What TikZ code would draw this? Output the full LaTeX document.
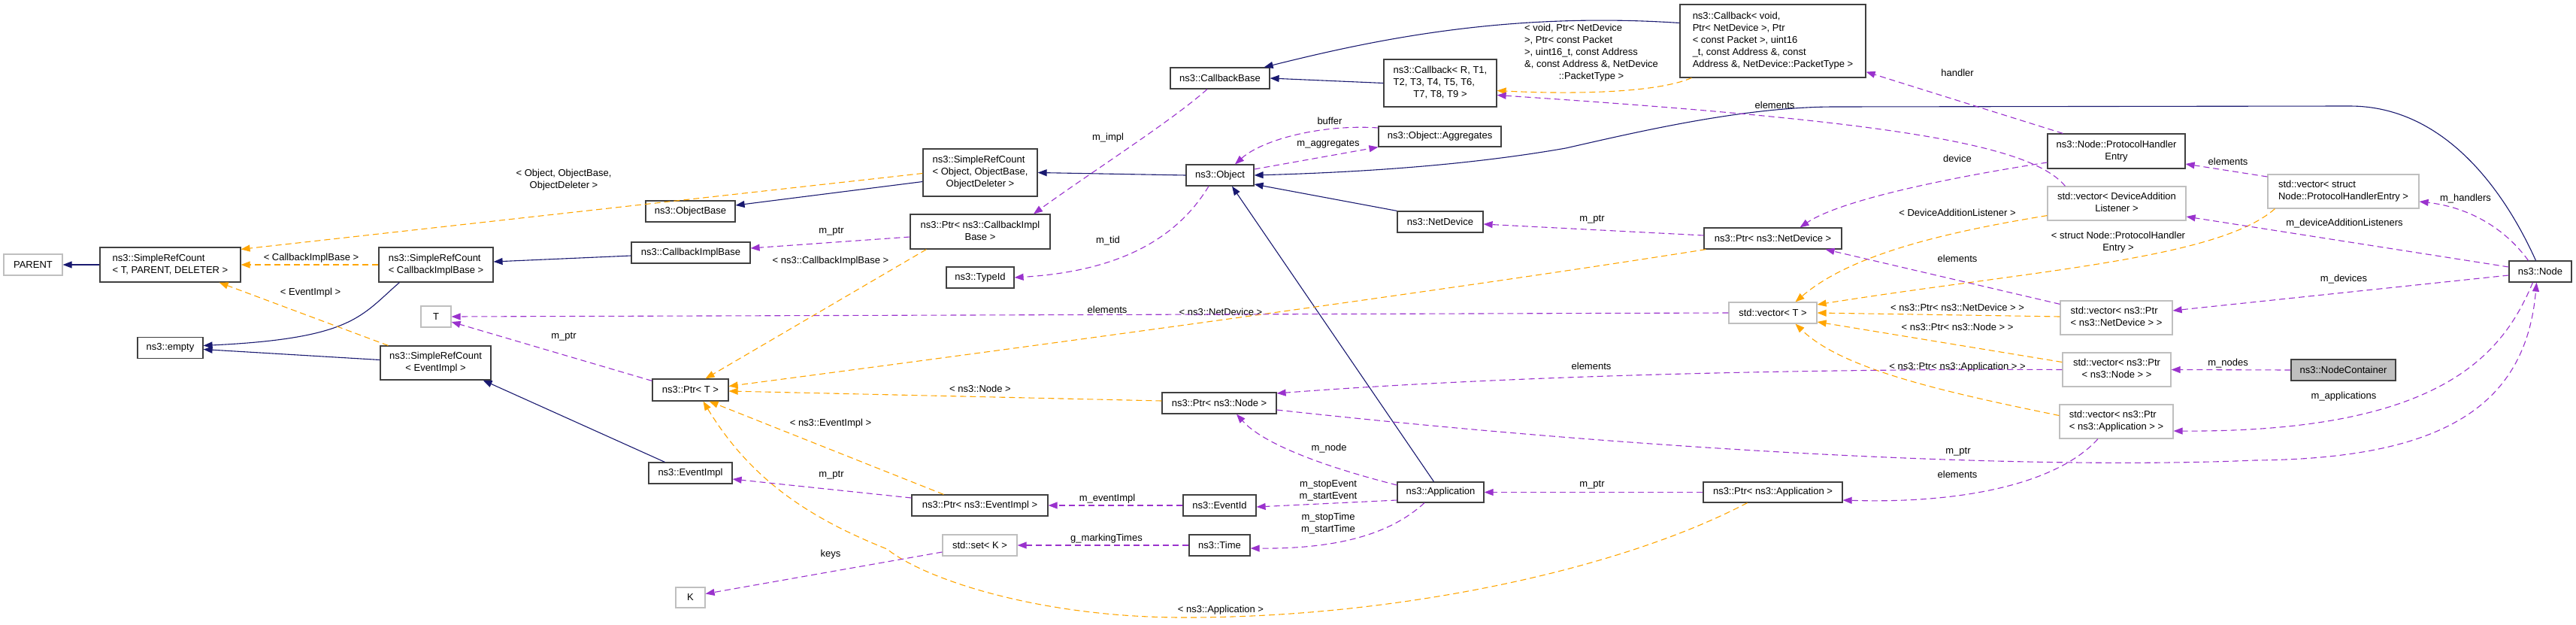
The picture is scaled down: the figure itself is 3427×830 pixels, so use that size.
\documentclass[tikz,border=0pt]{standalone}
\usepackage{fontspec}
\setmainfont{Liberation Sans}
\definecolor{dgNavy}{HTML}{191970}
\definecolor{dgPurple}{HTML}{9A32CD}
\definecolor{dgOrange}{HTML}{FFA500}
\definecolor{dgGrey}{HTML}{BFBFBF}
\definecolor{dgFrame}{HTML}{404040}
\usetikzlibrary{arrows.meta}
\newcommand{\dgfont}{\fontsize{13}{16}\selectfont}
\newcommand{\leftlines}[2]{\begin{tabular}{@{}l@{}}#1\\\multicolumn{1}{@{}c@{}}{#2}\end{tabular}}

\begin{document}
\begin{tikzpicture}[
  x=1pt, y=-1pt,
  cls/.style={draw=dgFrame, line width=1.2pt, fill=white, inner sep=0pt,
    minimum height=28pt, font=\dgfont},
  ext/.style={cls, draw=dgGrey},
  focus/.style={cls, fill=dgGrey},
  lbl/.style={inner sep=0pt, font=\dgfont, align=center},
  inh/.style={-{Triangle[length=12pt,width=9pt]}, line width=1.1pt, color=dgNavy},
  use/.style={inh, color=dgPurple, dash pattern=on 8pt off 5pt},
  tpl/.style={inh, color=dgOrange, dash pattern=on 8pt off 5pt}
]
  \useasboundingbox (0,0) rectangle (3427,830);

  % classes
  \node[ext, minimum width=78pt] (parent) at (44,352) {PARENT};
  \node[cls, minimum width=187pt, minimum height=46pt] (srcTPD) at (226.5,352)
    {\leftlines{ns3::SimpleRefCount}{< T, PARENT, DELETER >}};
  \node[cls, minimum width=152pt, minimum height=46pt] (srcCIB) at (580,352)
    {\leftlines{ns3::SimpleRefCount}{< CallbackImplBase >}};
  \node[ext, minimum width=40pt] (tT) at (580,421) {T};
  \node[cls, minimum width=87pt] (empty) at (226.5,462.5) {ns3::empty};
  \node[cls, minimum width=147pt, minimum height=45pt] (srcEI) at (579.5,482.5)
    {\leftlines{ns3::SimpleRefCount}{< EventImpl >}};
  \node[cls, minimum width=119pt] (objBase) at (918.5,281) {ns3::ObjectBase};
  \node[cls, minimum width=158pt] (cbImplBase) at (919,336) {ns3::CallbackImplBase};
  \node[cls, minimum width=101pt, minimum height=29pt] (ptrT) at (918.5,518.5) {ns3::Ptr< T >};
  \node[cls, minimum width=111pt] (eventImpl) at (918.5,629) {ns3::EventImpl};
  \node[ext, minimum width=39pt, minimum height=27pt] (kK) at (918.5,794.5) {K};
  \node[cls, minimum width=132pt] (callbackBase) at (1623,104) {ns3::CallbackBase};
  \node[cls, minimum width=152pt, minimum height=63pt] (srcObj) at (1304,229.5)
    {\leftlines{ns3::SimpleRefCount\\< Object, ObjectBase,}{ObjectDeleter >}};
  \node[cls, minimum width=186pt, minimum height=46pt] (ptrCIB) at (1304,308)
    {\leftlines{ns3::Ptr< ns3::CallbackImpl}{Base >}};
  \node[cls, minimum width=90pt] (typeId) at (1304,369) {ns3::TypeId};
  \node[cls, minimum width=90pt] (object) at (1623,233) {ns3::Object};
  \node[cls, minimum width=163pt, minimum height=27pt] (aggregates) at (1915.5,181.5) {ns3::Object::Aggregates};
  \node[cls, minimum width=150pt, minimum height=63pt] (cbRT) at (1916,110.5)
    {\leftlines{ns3::Callback< R, T1,\\T2, T3, T4, T5, T6,}{T7, T8, T9 >}};
  \node[cls, minimum width=247pt, minimum height=97pt] (cbVoid) at (2358.5,54.5)
    {\leftlines{ns3::Callback< void,\\Ptr< NetDevice >, Ptr\\< const Packet >, uint16\\\_t, const Address \&, const}{Address \&, NetDevice::PacketType >}};
  \node[cls, minimum width=114pt] (netDevice) at (1916,295) {ns3::NetDevice};
  \node[cls, minimum width=183pt] (ptrND) at (2358.5,317) {ns3::Ptr< ns3::NetDevice >};
  \node[cls, minimum width=183pt, minimum height=46pt] (phe) at (2815.5,201)
    {\leftlines{ns3::Node::ProtocolHandler}{Entry}};
  \node[ext, minimum width=184pt, minimum height=45pt] (vecDAL) at (2816,270.5)
    {\leftlines{std::vector< DeviceAddition}{Listener >}};
  \node[ext, minimum width=201pt, minimum height=45pt] (vecPHE) at (3117.5,254.5)
    {\leftlines{std::vector< struct}{Node::ProtocolHandlerEntry >}};
  \node[ext, minimum width=117pt] (vecT) at (2358.5,416) {std::vector< T >};
  \node[ext, minimum width=149pt, minimum height=45pt] (vecPND) at (2815.5,422.5)
    {\leftlines{std::vector< ns3::Ptr}{< ns3::NetDevice > >}};
  \node[ext, minimum width=144pt, minimum height=45pt] (vecPN) at (2816,491.5)
    {\leftlines{std::vector< ns3::Ptr}{< ns3::Node > >}};
  \node[ext, minimum width=151pt, minimum height=45pt] (vecPA) at (2815.5,560.5)
    {\leftlines{std::vector< ns3::Ptr}{< ns3::Application > >}};
  \node[focus, minimum width=139pt] (nodeCont) at (3117.5,492) {ns3::NodeContainer};
  \node[cls, minimum width=83pt] (node) at (3379.5,361) {ns3::Node};
  \node[cls, minimum width=152pt] (ptrNode) at (1622,536) {ns3::Ptr< ns3::Node >};
  \node[cls, minimum width=115pt, minimum height=27pt] (application) at (1916.5,654.5) {ns3::Application};
  \node[cls, minimum width=97pt] (eventId) at (1622.5,672) {ns3::EventId};
  \node[cls, minimum width=181pt] (ptrEI) at (1303.5,672) {ns3::Ptr< ns3::EventImpl >};
  \node[cls, minimum width=81pt] (time) at (1622.5,725) {ns3::Time};
  \node[ext, minimum width=99pt] (setK) at (1303.5,725) {std::set< K >};
  \node[cls, minimum width=185pt, minimum height=27pt] (ptrApp) at (2358.5,654.5) {ns3::Ptr< ns3::Application >};

  % edge labels
  \node[lbl] (lObjTpl) at (750,239) {< Object, ObjectBase,\\ObjectDeleter >};
  \node[lbl] (lCIB) at (414,343) {< CallbackImplBase >};
  \node[lbl] (lEI) at (413,389) {< EventImpl >};
  \node[lbl] (lPtrCIB) at (1105,347) {< ns3::CallbackImplBase >};
  \node[lbl] (lPtrT) at (750,448) {m\_ptr};
  \node[lbl] (lPtrCB) at (1106,308) {m\_ptr};
  \node[lbl] (lElemT) at (1473,412) {elements};
  \node[lbl] (lND) at (1624,415) {< ns3::NetDevice >};
  \node[lbl] (lNode) at (1304,517) {< ns3::Node >};
  \node[lbl] (lEImpl) at (1105,563) {< ns3::EventImpl >};
  \node[lbl] (lPtrEI) at (1106,632) {m\_ptr};
  \node[lbl] (lKeys) at (1105,737) {keys};
  \node[lbl] (lApp) at (1624,811) {< ns3::Application >};
  \node[lbl] (lEvImpl) at (1473,663) {m\_eventImpl};
  \node[lbl] (lMark) at (1472,716) {g\_markingTimes};
  \node[lbl] (lImpl) at (1474,183) {m\_impl};
  \node[lbl] (lTid) at (1474,320) {m\_tid};
  \node[lbl] (lBuffer) at (1769,161) {buffer};
  \node[lbl] (lAggr) at (1767,192) {m\_aggregates};
  \node[lbl] (lCbTpl) at (2117,70)
    {\leftlines{< void, Ptr< NetDevice\\>, Ptr< const Packet\\>, uint16\_t, const Address\\\&, const Address \&, NetDevice}{::PacketType >}};
  \node[lbl] (lPtrND) at (2118,292) {m\_ptr};
  \node[lbl] (lElemCB) at (2361,140) {elements};
  \node[lbl] (lHandler) at (2604,97) {handler};
  \node[lbl] (lDevice) at (2604,211) {device};
  \node[lbl] (lDAL) at (2604,283) {< DeviceAdditionListener >};
  \node[lbl] (lPHE) at (2818,322) {\leftlines{< struct Node::ProtocolHandler}{Entry >}};
  \node[lbl] (lElemND) at (2604,344) {elements};
  \node[lbl] (lPND) at (2604,409) {< ns3::Ptr< ns3::NetDevice > >};
  \node[lbl] (lPN) at (2604,435) {< ns3::Ptr< ns3::Node > >};
  \node[lbl] (lPA) at (2604,488) {< ns3::Ptr< ns3::Application > >};
  \node[lbl] (lPtrN) at (2605,601) {m\_ptr};
  \node[lbl] (lElemA) at (2604,631) {elements};
  \node[lbl] (lElemPN) at (2117,487) {elements};
  \node[lbl] (lNodeM) at (1768,596) {m\_node};
  \node[lbl] (lPtrA) at (2118,645) {m\_ptr};
  \node[lbl] (lEvents) at (1767,652) {m\_stopEvent\\m\_startEvent};
  \node[lbl] (lTimes) at (1767,696) {m\_stopTime\\m\_startTime};
  \node[lbl] (lElemPHE) at (2964,215) {elements};
  \node[lbl] (lHandlers) at (3280,264) {m\_handlers};
  \node[lbl] (lListeners) at (3119,297) {m\_deviceAdditionListeners};
  \node[lbl] (lDevices) at (3118,371) {m\_devices};
  \node[lbl] (lNodes) at (2964,483) {m\_nodes};
  \node[lbl] (lApps) at (3118,527) {m\_applications};

  % inheritance
  \draw[inh] (srcTPD.west) -- (parent.east);
  \draw[inh] ([xshift=28pt]srcCIB.south west) .. controls (480,420) and (470,450) .. ([yshift=3pt]empty.east);
  \draw[inh] ([yshift=4pt]srcEI.west) -- ([yshift=-2pt]empty.east);
  \draw[inh] ([yshift=-4pt]cbImplBase.west) -- ([yshift=4pt]srcCIB.east);
  \draw[inh] (object.west) -- (srcObj.east);
  \draw[inh] ([yshift=-12pt]srcObj.west) -- ([yshift=8pt]objBase.east);
  \draw[inh] ([xshift=-34pt]eventImpl.north) -- ([xshift=-11pt]srcEI.south east);
  \draw[inh] (cbRT.west) -- (callbackBase.east);
  \draw[inh] ([yshift=24pt]cbVoid.west) .. controls (2000,15) and (1820,55) .. ([xshift=-8pt]callbackBase.north east);
  \draw[inh] ([xshift=-6pt]node.north) .. controls (3330,250) and (3250,141) .. (3126,141) -- (2441,142)
    .. controls (2320,142) and (2180,175) .. (2083,197) .. controls (1980,215) and (1850,228) .. (object.east);
  \draw[inh] (netDevice.north west) -- ([yshift=-12pt]object.east);
  \draw[inh] ([xshift=-9pt]application.north) -- ([xshift=16pt]object.south);

  % template instances
  \draw[tpl] ([yshift=-1pt]srcObj.west) -- ([yshift=-3pt]srcTPD.north east);
  \draw[tpl] (srcCIB.west) -- (srcTPD.east);
  \draw[tpl] ([xshift=11pt]srcEI.north west) -- ([xshift=-29pt]srcTPD.south east);
  \draw[tpl] ([xshift=22pt]ptrCIB.south west) -- ([xshift=20pt]ptrT.north);
  \draw[tpl] ([xshift=3pt]ptrND.south west) .. controls (1900,390) and (1300,470) .. ([yshift=5pt]ptrT.east);
  \draw[tpl] ([yshift=3pt]ptrNode.west) -- ([yshift=-1.5pt]ptrT.east);
  \draw[tpl] ([xshift=43pt]ptrEI.north west) -- ([xshift=25pt]ptrT.south);
  \draw[tpl] ([xshift=-34pt]ptrApp.south) .. controls (2150,760) and (1850,822) .. (1570,821)
    .. controls (1380,820) and (1230,770) .. (1180,730) .. controls (1080,690) and (1000,640) .. ([xshift=17pt]ptrT.south);
  \draw[tpl] ([xshift=10pt]vecPHE.south west) .. controls (2950,345) and (2700,360) .. ([yshift=11pt]vecT.east);
  \draw[tpl] ([yshift=7pt]vecDAL.south west) .. controls (2580,310) and (2460,340) .. ([xshift=30pt]vecT.north);
  \draw[tpl] ([yshift=1.5pt]vecPND.west) -- (vecT.east);
  \draw[tpl] ([yshift=10pt]vecPN.west) -- ([yshift=-12pt]vecT.east);
  \draw[tpl] ([yshift=8pt]vecPA.west) .. controls (2580,520) and (2450,490) .. ([xshift=30pt]vecT.south);
  \draw[tpl] ([xshift=16pt]cbVoid.south west) .. controls (2200,125) and (2080,125) .. ([yshift=-10pt]cbRT.east);

  % members
  \draw[use] ([yshift=-3pt]ptrT.north west) -- ([yshift=-7pt]tT.east);
  \draw[use] (vecT.west) -- (tT.east);
  \draw[use] ([yshift=-7pt]ptrCIB.west) -- ([yshift=6pt]cbImplBase.east);
  \draw[use] ([yshift=10pt]ptrEI.west) -- ([yshift=-8pt]eventImpl.east);
  \draw[use] ([yshift=-9pt]setK.west) -- ([yshift=5pt]kK.east);
  \draw[use] ([xshift=-17pt]callbackBase.south) .. controls (1560,160) and (1450,230) .. ([xshift=71pt]ptrCIB.north);
  \draw[use] ([xshift=-15pt]object.south) .. controls (1570,310) and (1500,360) .. (typeId.east);
  \draw[use] ([yshift=11.5pt]aggregates.west) .. controls (1760,165) and (1680,185) .. ([xshift=20pt]object.north);
  \draw[use] ([yshift=8pt]object.east) -- (aggregates.south west);
  \draw[use] ([yshift=4pt]ptrND.west) -- ([yshift=-3pt]netDevice.east);
  \draw[use] ([xshift=24pt]vecDAL.north west) .. controls (2700,190) and (2500,160) .. ([yshift=-16pt]cbRT.east);
  \draw[use] ([xshift=21pt]phe.north west) -- ([yshift=8pt]cbVoid.south east);
  \draw[use] ([yshift=-15pt]phe.west) .. controls (2600,235) and (2450,265) .. ([xshift=36pt]ptrND.north);
  \draw[use] ([yshift=19.5pt]vecPHE.west) -- ([yshift=-17pt]phe.east);
  \draw[use] ([xshift=-16pt]node.north) .. controls (3330,300) and (3280,275) .. ([yshift=-13.5pt]vecPHE.east);
  \draw[use] ([yshift=6pt]node.west) -- ([yshift=-17.5pt]vecDAL.east);
  \draw[use] ([yshift=-5pt]node.west) -- ([yshift=9.5pt]vecPND.east);
  \draw[use] ([yshift=-5pt]vecPND.north west) -- ([xshift=70pt]ptrND.south);
  \draw[use] (vecPN.west) .. controls (2400,490) and (2000,500) .. ([yshift=13pt]ptrNode.east);
  \draw[use] (nodeCont.west) -- (vecPN.east);
  \draw[use] ([xshift=-10pt]node.south) .. controls (3330,470) and (3250,575) .. ([yshift=-12.5pt]vecPA.east);
  \draw[use] ([yshift=-9pt]ptrNode.east) .. controls (2200,600) and (2700,625) .. (3000,612)
    .. controls (3250,610) and (3360,540) .. ([xshift=-5pt]node.south);
  \draw[use] ([yshift=9.5pt]application.west) .. controls (1760,620) and (1680,590) .. ([xshift=23pt]ptrNode.south);
  \draw[use] ([yshift=-10.5pt]application.west) -- ([yshift=-2pt]eventId.east);
  \draw[use] (eventId.west) -- (ptrEI.east);
  \draw[use] ([xshift=-21.5pt]application.south) .. controls (1850,710) and (1780,730) .. ([yshift=-4pt]time.east);
  \draw[use] (time.west) -- (setK.east);
  \draw[use] (ptrApp.west) -- (application.east);
  \draw[use] ([xshift=-24.5pt]vecPA.south) .. controls (2740,640) and (2620,670) .. ([yshift=-10.5pt]ptrApp.east);
\end{tikzpicture}
\end{document}
